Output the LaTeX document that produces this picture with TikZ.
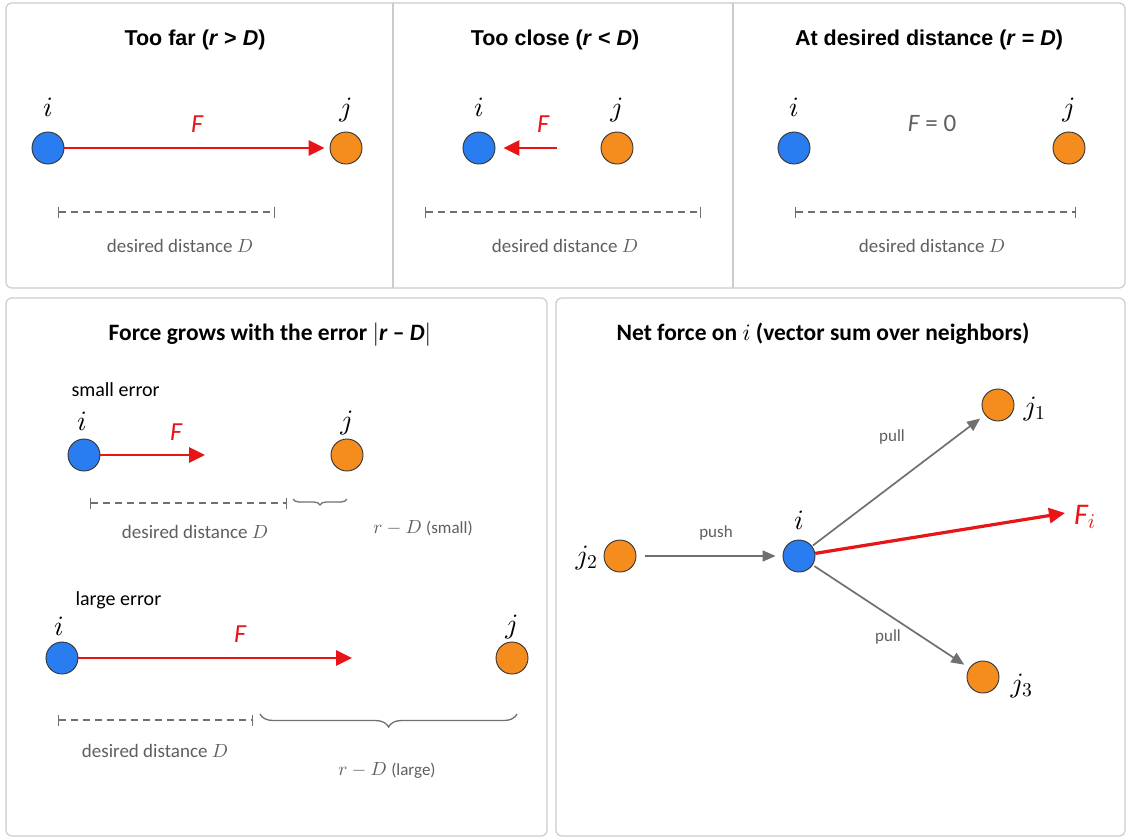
\documentclass[tikz,border=0pt]{standalone}
\usepackage{fontspec}
\setmainfont{Carlito}
\newfontfamily\titlefont{Liberation Sans}
\DeclareFontShape{OML}{cmm}{m}{it}{<-> cmmi10}{}
\DeclareFontShape{OMS}{cmsy}{m}{n}{<-> cmsy10}{}
\DeclareFontShape{OT1}{cmr}{m}{n}{<-> cmr10}{}
\usetikzlibrary{arrows.meta,decorations.pathreplacing}
\definecolor{iblue}{HTML}{2A7DF0}
\definecolor{jorange}{HTML}{F58C1E}
\definecolor{fred}{HTML}{E81416}
\definecolor{txtgray}{HTML}{5F5F5F}
\definecolor{linegray}{HTML}{707070}
\definecolor{panelgray}{HTML}{CCCCCC}
\tikzset{
  panel/.style={draw=panelgray, line width=1.2pt, rounded corners=6pt, fill=white},
  divider/.style={draw=panelgray, line width=1.2pt},
  ibead/.style={circle, draw=black!80, fill=iblue, minimum size=32pt, inner sep=0pt, line width=0.9pt},
  jbead/.style={circle, draw=black!80, fill=jorange, minimum size=32pt, inner sep=0pt, line width=0.9pt},
  ttl/.style={font=\titlefont\bfseries\fontsize{21.5}{24}\selectfont, text=black},
  ttlb/.style={font=\bfseries\fontsize{23.5}{26}\selectfont, text=black},
  sub/.style={font=\fontsize{20}{23}\selectfont, text=black},
  mlbl/.style={font=\fontsize{28}{30}\selectfont, text=black},
  flbl/.style={font=\itshape\fontsize{26}{28}\selectfont, text=fred},
  dimlbl/.style={font=\fontsize{19}{22}\selectfont, text=txtgray},
  glbl/.style={font=\fontsize{17}{20}\selectfont, text=txtgray},
  force/.style={draw=fred, line width=2.8pt, -{Triangle[length=16pt,width=15pt]}},
  grayarrow/.style={draw=linegray, line width=1.7pt, -{Triangle[length=13pt,width=11pt]}},
  dimline/.style={draw=linegray, line width=1.3pt, dash pattern=on 7pt off 5pt, {Bar[width=11pt,line width=1.3pt]}-{Bar[width=11pt,line width=1.3pt]}},
  bracebig/.style={draw=linegray, line width=1.3pt, decorate, decoration={brace, mirror, amplitude=13pt}},
  bracesmall/.style={draw=linegray, line width=1.3pt, decorate, decoration={brace, mirror, amplitude=6pt}},
}
\begin{document}
\begin{tikzpicture}[x=1pt,y=-1pt]
\useasboundingbox[fill=white] (0,0) rectangle (1127,839);
% ---------- top row panels
\draw[panel] (6,3) rectangle (1125,288);
\draw[divider] (393,3) -- (393,288);
\draw[divider] (733,3) -- (733,288);
% ---------- Panel 1: too far
\node[ttl] (t1) at (195,40) {Too far (\textit{r} > \textit{D})};
\node[ibead] (i1) at (48,148) {};
\node[jbead] (j1) at (346,148) {};
\node[mlbl] (li1) at (48,107) {$i$};
\node[mlbl] (lj1) at (346,110) {$j$};
\draw[force] (i1.east) -- ([xshift=-5pt]j1.west);
\node[flbl] (f1) at (197,124) {F};
\coordinate (d1a) at (58,212);
\coordinate (d1b) at (275,212);
\draw[dimline] (d1a) -- (d1b);
\node[dimlbl] (dl1) at (180,246) {desired distance $D$};
% ---------- Panel 2: too close
\node[ttl] (t2) at (555,40) {Too close (\textit{r} < \textit{D})};
\node[ibead] (i2) at (479,148) {};
\node[jbead] (j2) at (617,148) {};
\node[mlbl] (li2) at (479,107) {$i$};
\node[mlbl] (lj2) at (617,110) {$j$};
\coordinate (f2s) at (557,148);
\draw[force] (f2s) -- ([xshift=8pt]i2.east);
\node[flbl] (f2) at (543,124) {F};
\coordinate (d2a) at (425,212);
\coordinate (d2b) at (701,212);
\draw[dimline] (d2a) -- (d2b);
\node[dimlbl] (dl2) at (565,246) {desired distance $D$};
% ---------- Panel 3: at desired distance
\node[ttl] (t3) at (929,40) {At desired distance (\textit{r} = \textit{D})};
\node[ibead] (i3) at (794,148) {};
\node[jbead] (j3) at (1069,148) {};
\node[mlbl] (li3) at (794,107) {$i$};
\node[mlbl] (lj3) at (1069,110) {$j$};
\node[font=\fontsize{25}{27}\selectfont, text=txtgray] (f3) at (932,123) {\textit{F} = 0};
\coordinate (d3a) at (795,212);
\coordinate (d3b) at (1076,212);
\draw[dimline] (d3a) -- (d3b);
\node[dimlbl] (dl3) at (932,246) {desired distance $D$};
% ---------- bottom-left panel
\draw[panel] (6,298) rectangle (547,836);
\node[ttlb] (t4) at (270,335) {Force grows with the error $|$\textit{r} -- \textit{D}$|$};
\node[sub, anchor=west] (se) at (68,390) {small error};
\node[ibead] (i4) at (84,455) {};
\node[jbead] (j4) at (347,455) {};
\node[mlbl] (li4) at (82,421) {$i$};
\node[mlbl] (lj4) at (347,423) {$j$};
\coordinate (f4e) at (205,455);
\draw[force] (i4.east) -- (f4e);
\node[flbl] (f4) at (176,432) {F};
\coordinate (d4a) at (90,503);
\coordinate (d4b) at (287,503);
\draw[dimline] (d4a) -- (d4b);
\coordinate (b4a) at (293,499);
\coordinate (b4b) at (347,499);
\draw[bracesmall] (b4a) -- (b4b);
\node[dimlbl] (dl4) at (195,532) {desired distance $D$};
\node[dimlbl] (e4) at (423,528) {$r - D$ {\fontsize{17}{20}\selectfont(small)}};
% large error
\node[sub, anchor=west] (le) at (72,600) {large error};
\node[ibead] (i5) at (62,658) {};
\node[jbead] (j5) at (512,658) {};
\node[mlbl] (li5) at (59,626) {$i$};
\node[mlbl] (lj5) at (512,627) {$j$};
\coordinate (f5e) at (352,658);
\draw[force] (i5.east) -- (f5e);
\node[flbl] (f5) at (240,634) {F};
\coordinate (d5a) at (58,720);
\coordinate (d5b) at (253,720);
\draw[dimline] (d5a) -- (d5b);
\coordinate (b5a) at (260,714);
\coordinate (b5b) at (517,714);
\draw[bracebig] (b5a) -- (b5b);
\node[dimlbl] (dl5) at (155,751) {desired distance $D$};
\node[dimlbl] (e5) at (387,770) {$r - D$ {\fontsize{17}{20}\selectfont(large)}};
% ---------- bottom-right panel
\draw[panel] (556,298) rectangle (1125,836);
\node[ttlb] (t6) at (823,334) {Net force on $i$ (vector sum over neighbors)};
\node[ibead] (i6) at (799,556) {};
\node[jbead] (n1) at (998,405) {};
\node[jbead] (n2) at (620,556) {};
\node[jbead] (n3) at (983,677) {};
\node[mlbl] (li6) at (799,520) {$i$};
\node[mlbl, anchor=west] (ln1) at (1020,409) {$j_1$};
\node[mlbl, anchor=east] (ln2) at (601,558) {$j_2$};
\node[mlbl, anchor=west] (ln3) at (1007,686) {$j_3$};
\draw[grayarrow] ([xshift=9pt]n2.east) -- ([xshift=-7pt]i6.west);
\draw[grayarrow, shorten <=1pt, shorten >=6pt] (i6) -- (n1);
\draw[grayarrow, shorten <=2pt, shorten >=6pt] (i6) -- (n3);
\coordinate (fi) at (1065,513);
\draw[force, line width=3.2pt] (i6) -- (fi);
\node[text=fred, anchor=west, inner sep=1pt] (lfi) at (1073,517) {\fontsize{30}{32}\selectfont\itshape F$_{i}$};
\node[glbl] (push) at (716,533) {push};
\node[glbl] (pull1) at (892,437) {pull};
\node[glbl] (pull3) at (888,637) {pull};
\end{tikzpicture}
\end{document}
